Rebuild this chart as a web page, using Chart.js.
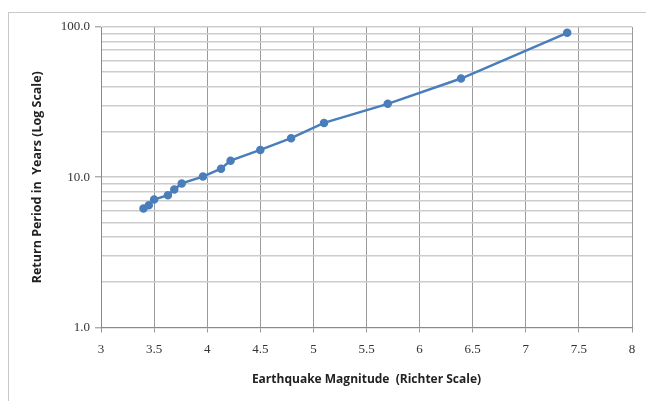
<!DOCTYPE html>
<html>
<head>
<meta charset="utf-8">
<script src="https://cdn.jsdelivr.net/npm/chart.js@4"></script>
<style>
  html, body { margin: 0; padding: 0; background: #fff; overflow: hidden; }
  #wrap { position: relative; width: 646px; height: 401px; }
  #frame { position: absolute; left: 8px; top: 12px; width: 800px; height: 600px; border: 1px solid #c9c9c9; box-sizing: border-box; }
  #chart { position: absolute; left: 0; top: 0; }
</style>
</head>
<body>
<div id="wrap">
  <div id="frame"></div>
  <canvas id="chart" width="646" height="401"></canvas>
</div>
<script>
// magnitude vs. return period
const magnitudes = [3.4, 3.45, 3.5, 3.63, 3.69, 3.76, 3.96, 4.13, 4.22, 4.5, 4.79, 5.1, 5.7, 6.39, 7.39];
const returnYears = [6.2, 6.5, 7.1, 7.6, 8.3, 9.1, 10.1, 11.4, 12.9, 15.2, 18.2, 23.0, 30.8, 45.4, 91.5];

// log axis gridlines, labels only on the decades
const yTicks = [1, 2, 3, 4, 5, 6, 7, 8, 9, 10, 20, 30, 40, 50, 60, 70, 80, 90, 100];
const yLabeled = [1, 10, 100];

const tickFont = { family: "'Liberation Serif', serif", size: 13 };
const titleFont = { family: "'Open Sans', 'Liberation Sans', sans-serif", size: 12, weight: "bold" };

const ctx = document.getElementById("chart");
new Chart(ctx, {
  type: "scatter",
  data: {
    datasets: [
      {
        data: magnitudes.map((m, i) => ({ x: m, y: returnYears[i] })),
        showLine: true,
        borderColor: "#4a7ebb",
        backgroundColor: "#4a7ebb",
        borderWidth: 2.5,
        pointRadius: 3,
        pointHoverRadius: 3,
      },
    ],
  },
  options: {
    responsive: false,
    animation: false,
    layout: {
      padding: { left: 0, right: 14, top: 27, bottom: 0 },
    },
    plugins: {
      legend: { display: false },
      tooltip: { enabled: false },
    },
    scales: {
      x: {
        type: "linear",
        min: 3,
        max: 8,
        ticks: {
          stepSize: 0.5,
          color: "#333",
          font: tickFont,
          padding: 9,
          maxRotation: 0,
          callback: (v) => String(v),
        },
        grid: {
          color: "#9a9a9a",
          lineWidth: 1,
          tickLength: 5,
          tickColor: "#9a9a9a",
        },
        border: { color: "#8a8a8a", width: 1 },
        title: {
          display: true,
          text: "Earthquake Magnitude  (Richter Scale)",
          color: "#222",
          font: titleFont,
          padding: { top: 4, bottom: 14 },
        },
        afterFit: (scale) => { scale.height = 73.5; },
      },
      y: {
        type: "logarithmic",
        min: 1,
        max: 100,
        afterBuildTicks: (scale) => {
          scale.ticks = yTicks.map((v) => ({ value: v, major: yLabeled.includes(v) }));
        },
        ticks: {
          autoSkip: false,
          color: "#333",
          font: tickFont,
          padding: 5,
          callback: (v) => (yLabeled.includes(v) ? v.toFixed(1) : ""),
        },
        grid: {
          color: "#cccccc",
          lineWidth: 1.6,
          tickLength: 6,
          tickWidth: 1,
          tickColor: (c) => (c.tick && c.tick.major ? "#8a8a8a" : "rgba(0,0,0,0)"),
        },
        border: { color: "#8a8a8a", width: 1 },
        title: {
          display: true,
          text: "Return Period in  Years (Log Scale)",
          color: "#222",
          font: { ...titleFont, size: 12.5 },
          padding: { top: 30, bottom: 4 },
        },
        afterFit: (scale) => { scale.width = 101; },
      },
    },
  },
});
</script>
</body>
</html>
